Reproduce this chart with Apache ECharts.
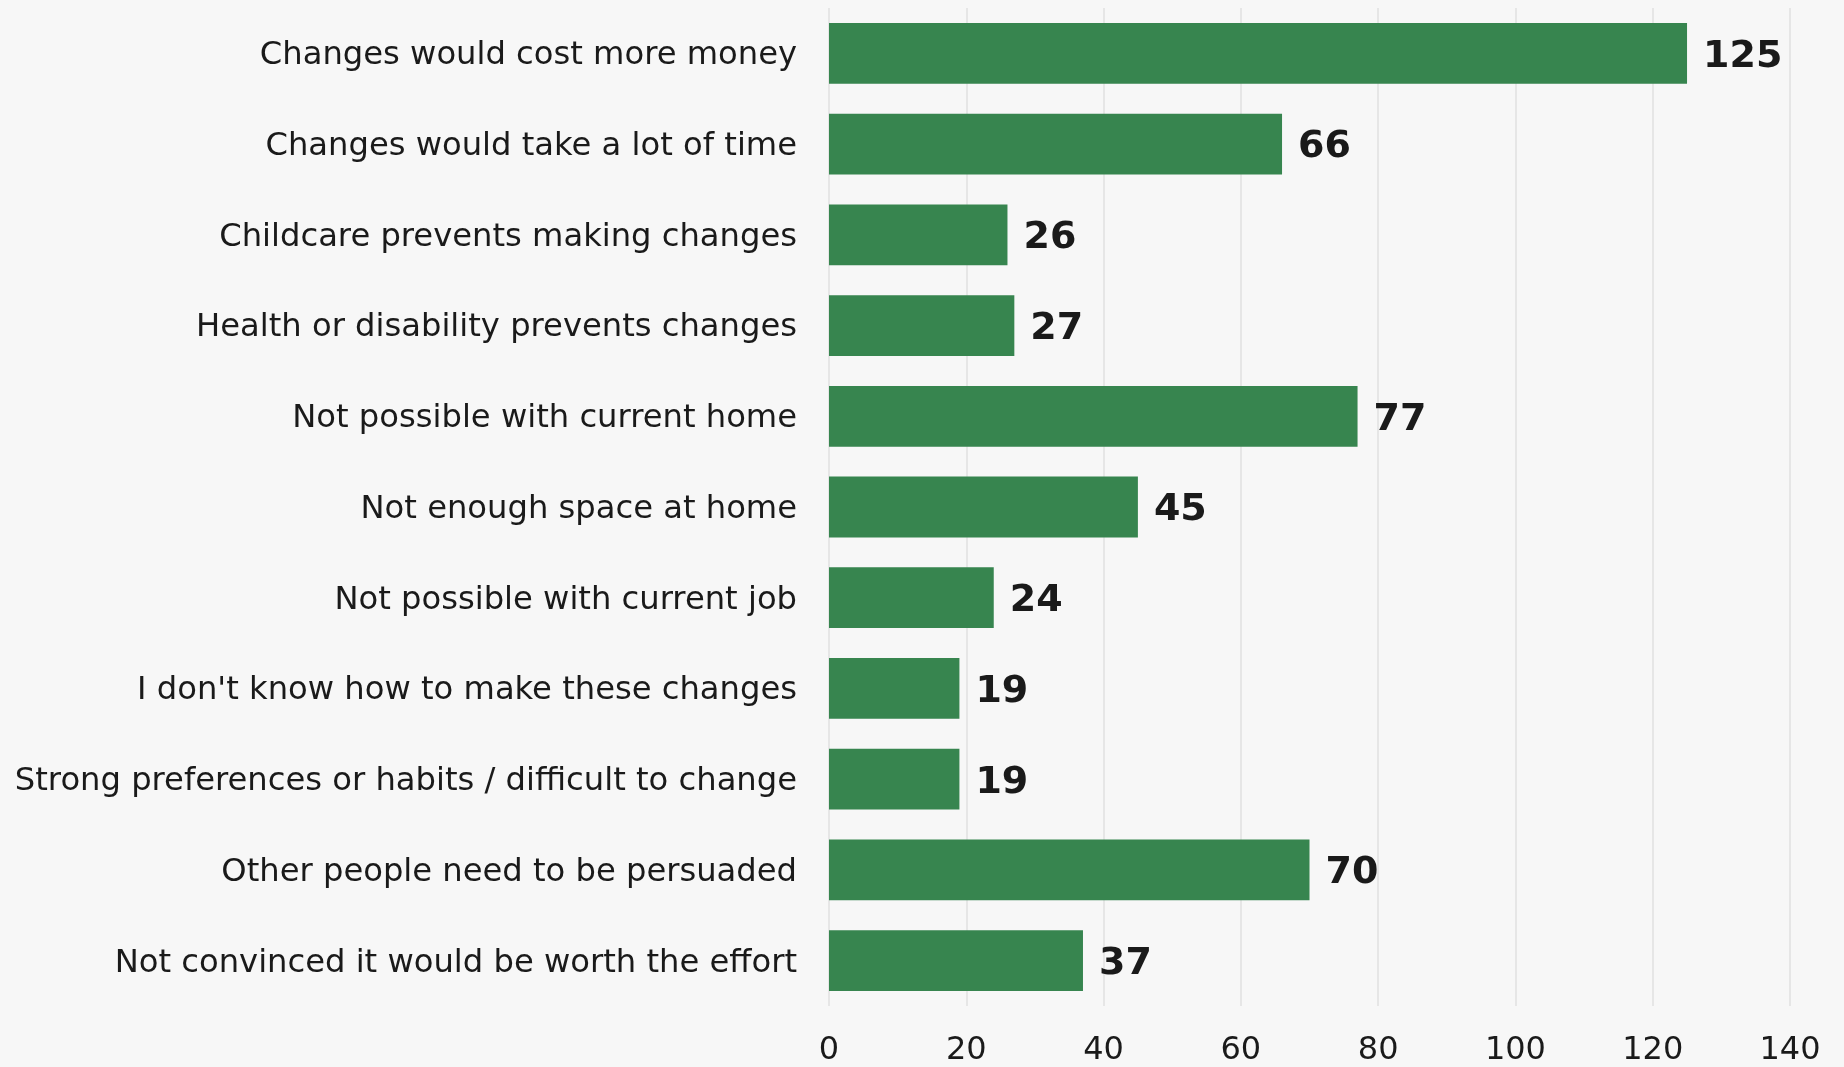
<!DOCTYPE html>
<html><head><meta charset="utf-8">
<script src="https://cdn.jsdelivr.net/npm/echarts@6/dist/echarts.min.js"></script>
<style>html,body{margin:0;padding:0;background:#f7f7f7;}#c{width:1844px;height:1067px;}</style>
</head><body><div id="c"></div>
<script>
const categories = [
  "Changes would cost more money",
  "Changes would take a lot of time",
  "Childcare prevents making changes",
  "Health or disability prevents changes",
  "Not possible with current home",
  "Not enough space at home",
  "Not possible with current job",
  "I don't know how to make these changes",
  "Strong preferences or habits / difficult to change",
  "Other people need to be persuaded",
  "Not convinced it would be worth the effort"
];
const values = [125, 66, 26, 27, 77, 45, 24, 19, 19, 70, 37];
const xTicks = [0, 20, 40, 60, 80, 100, 120, 140];

const chart = echarts.init(document.getElementById('c'), null, {renderer: 'canvas'});
chart.setOption({
  backgroundColor: '#f7f7f7',
  animation: false,
  grid: {left: 829, right: 54, top: 8, bottom: 59, containLabel: false},
  xAxis: {
    type: 'value', min: xTicks[0], max: xTicks[xTicks.length - 1], interval: 20,
    axisLine: {show: false}, axisTick: {show: false},
    splitLine: {show: true, lineStyle: {color: '#e6e6e6', width: 2}},
    axisLabel: {fontFamily: 'DejaVu Sans', fontSize: 32, color: '#1a1a1a', margin: 29}
  },
  yAxis: {
    type: 'category', data: categories, inverse: true,
    axisLine: {show: false}, axisTick: {show: false},
    axisLabel: {
      margin: 32,
      formatter: function (v) { return '{a|' + v + '}'; },
      rich: {a: {fontFamily: 'DejaVu Sans', fontSize: 32.2, color: '#1a1a1a', padding: [5, 0, 0, 0]}}
    }
  },
  series: [{
    type: 'bar', data: values, barCategoryGap: '33%',
    itemStyle: {color: '#37854f'},
    label: {show: true, position: 'right', distance: 16, offset: [0, 3.5], fontFamily: 'DejaVu Sans', fontWeight: 'bold', fontSize: 38, color: '#1a1a1a'}
  }]
});
</script></body></html>
